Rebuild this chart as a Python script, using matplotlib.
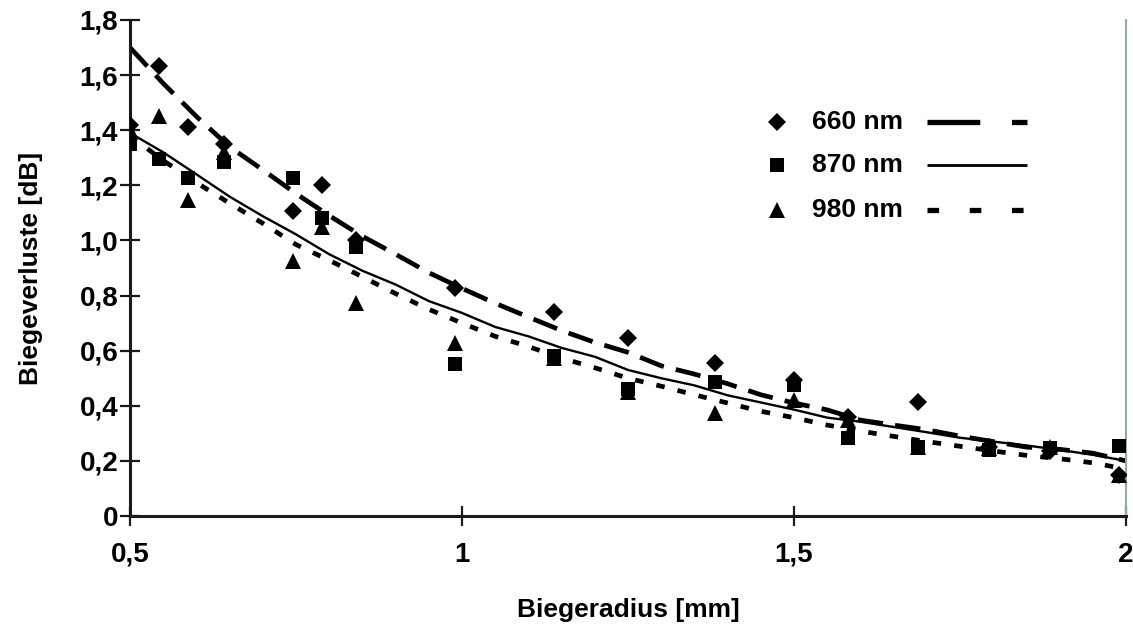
import matplotlib
matplotlib.use("Agg")
import matplotlib.pyplot as plt
from matplotlib.lines import Line2D

plt.rcParams['font.family'] = ['Liberation Sans', 'DejaVu Sans']
plt.rcParams['font.weight'] = 'bold'

# measured points
x_meas = [0.5, 0.544, 0.588, 0.642, 0.746, 0.789, 0.84, 0.989, 1.139, 1.25,
          1.381, 1.5, 1.582, 1.687, 1.793, 1.886, 1.99]
y_660 = [1.42, 1.634, 1.41, 1.35, 1.107, 1.20, 1.00, 0.829, 0.742, 0.647,
         0.554, 0.495, 0.36, 0.413, 0.25, 0.235, 0.15]
y_870 = [1.35, 1.296, 1.228, 1.285, 1.228, 1.08, 0.975, 0.55, 0.58, 0.46,
         0.487, 0.475, 0.282, 0.25, 0.24, 0.245, 0.254]
y_980 = [1.40, 1.45, 1.145, 1.32, 0.925, 1.05, 0.772, 0.627, 0.575, 0.45,
         0.373, 0.42, 0.35, 0.252, 0.245, 0.25, 0.15]

# fitted curves
x_fit = [0.50, 0.55, 0.60, 0.65, 0.70, 0.75, 0.80, 0.85, 0.90, 0.95, 1.00,
         1.05, 1.10, 1.15, 1.20, 1.25, 1.30, 1.35, 1.40, 1.45, 1.50, 1.55,
         1.60, 1.65, 1.70, 1.75, 1.80, 1.85, 1.90, 1.95, 2.00]
fit_660 = [1.70, 1.57, 1.45, 1.34, 1.256, 1.17, 1.09, 1.015, 0.95, 0.883, 0.826,
           0.772, 0.722, 0.673, 0.630, 0.594, 0.545, 0.515, 0.48, 0.44, 0.41, 0.385,
           0.348, 0.33, 0.313, 0.29, 0.27, 0.25, 0.242, 0.228, 0.20]
fit_870 = [1.39, 1.32, 1.24, 1.159, 1.088, 1.022, 0.95, 0.89, 0.84, 0.78, 0.737,
           0.686, 0.652, 0.61, 0.578, 0.53, 0.50, 0.474, 0.438, 0.412, 0.386, 0.357,
           0.342, 0.323, 0.304, 0.284, 0.27, 0.256, 0.24, 0.222, 0.20]
fit_980 = [1.38, 1.29, 1.21, 1.135, 1.062, 0.985, 0.928, 0.868, 0.807, 0.75, 0.70,
           0.652, 0.615, 0.573, 0.538, 0.50, 0.471, 0.44, 0.41, 0.38, 0.357, 0.33,
           0.308, 0.289, 0.27, 0.253, 0.236, 0.22, 0.208, 0.193, 0.17]

labels = ['660 nm', '870 nm', '980 nm']
x_ticks = [0.5, 1.0, 1.5, 2.0]
x_ticklabels = ['0,5', '1', '1,5', '2']
y_ticks = [0, 0.2, 0.4, 0.6, 0.8, 1.0, 1.2, 1.4, 1.6, 1.8]
y_ticklabels = ['0', '0,2', '0,4', '0,6', '0,8', '1,0', '1,2', '1,4', '1,6', '1,8']

fig = plt.figure(figsize=(11.33, 6.26), dpi=100)
ax = fig.add_axes([130/1133, 1-516/626, 996/1133, 496/626])

lw_d = 3.4
ax.plot(x_fit, fit_660, color='black', lw=lw_d, dashes=(5.4, 2.6), dash_capstyle='butt', zorder=2)
ax.plot(x_fit, fit_870, color='black', lw=1.7, zorder=2)
ax.plot(x_fit, fit_980, color='black', lw=lw_d, dashes=(1.8, 2.8), dash_capstyle='butt', zorder=2)

ax.plot(x_meas, y_660, 'D', color='black', ms=8.7, mew=0, zorder=3)
ax.plot(x_meas, y_870, 's', color='black', ms=9.5, mew=0, zorder=3)
ax.plot(x_meas, y_980, '^', color='black', ms=12, mew=0, zorder=3)

ax.set_xlim(0.5, 2.0)
ax.set_ylim(0, 1.8)
ax.set_xticks(x_ticks)
ax.set_xticklabels(x_ticklabels)
ax.set_yticks(y_ticks)
ax.set_yticklabels(y_ticklabels)
ax.tick_params(direction='inout', length=15, width=1.6, labelsize=20, pad=1, color='#1a1a1a')
ax.tick_params(axis='x', pad=11)
for lab in ax.get_xticklabels() + ax.get_yticklabels():
    lab.set_fontweight('bold')

ax.spines['top'].set_visible(False)
ax.spines['right'].set_color('#93a8a8')
ax.spines['right'].set_linewidth(1.5)
ax.spines['left'].set_linewidth(2.2)
ax.spines['bottom'].set_linewidth(2.2)
ax.spines['left'].set_color('#1a1a1a')
ax.spines['bottom'].set_color('#1a1a1a')

ax.set_xlabel('Biegeradius [mm]', fontsize=19, fontweight='bold', labelpad=22)
ax.set_ylabel('Biegeverluste [dB]', fontsize=19, fontweight='bold', labelpad=26)

# manual legend: marker, label, line
def ax_x(px):
    return (px - 130) / 996
def ax_y(py):
    return (516 - py) / 496

rows = [122, 165, 210]
markers = ['D', 's', '^']
msizes = [8.7, 9.5, 12]
line_styles = [dict(lw=3.8, dashes=(10, 6)), dict(lw=2.0), dict(lw=3.8, dashes=(2.2, 5.8))]
for lab, mk, ms, py, ls in zip(labels, markers, msizes, rows, line_styles):
    ax.add_line(Line2D([ax_x(777)], [ax_y(py)], marker=mk, ms=ms, color='black', mew=0,
                       transform=ax.transAxes, zorder=4))
    ax.text(ax_x(812), ax_y(py), lab, transform=ax.transAxes, fontsize=19, fontweight='bold',
            va='center', ha='left', zorder=4)
    ax.add_line(Line2D([ax_x(927), ax_x(1027)], [ax_y(py), ax_y(py)], color='black',
                       transform=ax.transAxes, solid_capstyle='butt', dash_capstyle='butt',
                       zorder=4, **ls))

fig.savefig('out.png', dpi=100)
